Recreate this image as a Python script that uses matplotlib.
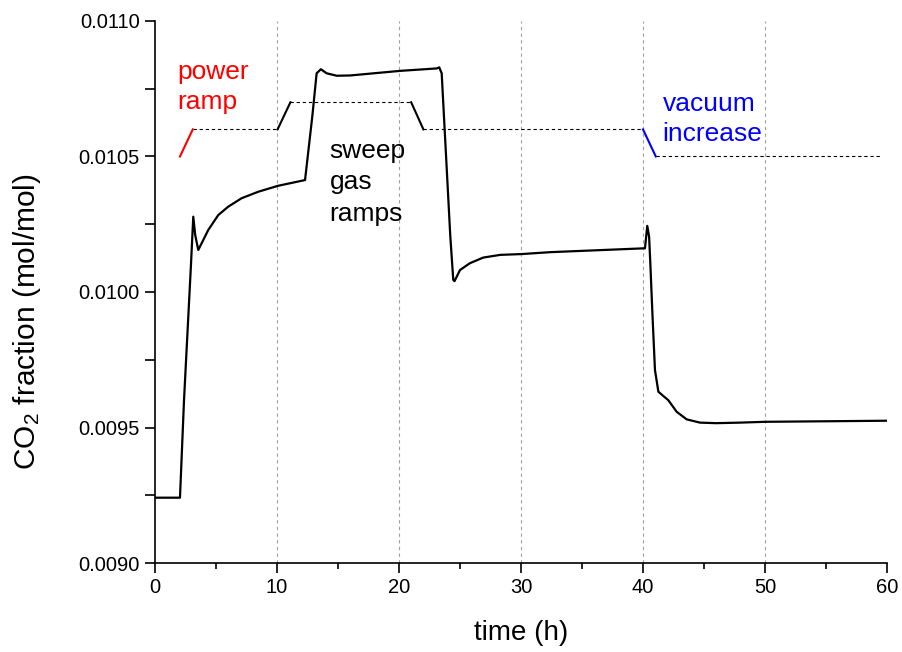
import matplotlib
matplotlib.use("Agg")
import matplotlib.pyplot as plt
from matplotlib.ticker import MultipleLocator, FormatStrFormatter

plt.rcParams["font.family"] = ["Liberation Sans", "DejaVu Sans"]
plt.rcParams["mathtext.default"] = "regular"

# CO2 fraction
time_h = [0, 2.05, 2.38, 2.95, 3.14, 3.3, 3.55, 3.96, 4.37, 5.19, 6.01, 7.1,
          8.47, 10.1, 12.3,
          12.9, 13.25, 13.6, 14.07, 14.9, 16.0, 20.1, 23.1, 23.3, 23.5, 24.2,
          24.45, 24.55, 25.0, 25.8, 26.9, 28.3, 30.06, 32.4, 40.0, 40.16, 40.35,
          40.5, 40.6, 40.77, 40.98, 41.26, 41.67, 42.07, 42.76, 43.58, 44.67,
          46.0, 47.95, 50.0, 60.0]
co2 = [0.009241, 0.009241, 0.00960, 0.01010, 0.010278, 0.01021, 0.010155,
       0.010192, 0.010229, 0.010284, 0.010315, 0.010346, 0.010370, 0.010392,
       0.010413,
       0.01065, 0.010807, 0.010822, 0.010807, 0.010798, 0.010799, 0.010816,
       0.010825, 0.010829, 0.010807, 0.010210, 0.010044, 0.010040, 0.010081,
       0.010106, 0.010127, 0.010137, 0.010140, 0.010147, 0.010161, 0.010161,
       0.010244, 0.010204, 0.010106, 0.009921, 0.009712, 0.009632, 0.009616,
       0.009601, 0.009558, 0.009530, 0.009518, 0.009516, 0.009518, 0.009521,
       0.009525]

# schematic of the operating changes
power_t = [2.05, 3.1]
power_v = [0.0105, 0.0106]
sweep_up_t = [10.05, 11.1]
sweep_up_v = [0.0106, 0.0107]
sweep_down_t = [21.0, 22.0]
sweep_down_v = [0.0107, 0.0106]
vac_t = [40.0, 41.05]
vac_v = [0.0106, 0.0105]
dash_segments = [([3.1, 10.05], [0.0106, 0.0106]),
                 ([11.1, 21.0], [0.0107, 0.0107]),
                 ([22.0, 40.0], [0.0106, 0.0106]),
                 ([41.05, 59.6], [0.0105, 0.0105])]

fig = plt.figure(figsize=(9.02, 6.52), dpi=100)
ax = fig.add_axes([0.1718, 0.1365, 0.8116, 0.8313])

for x in [10, 20, 30, 40, 50]:
    ax.axvline(x, color="#a0a0a0", linestyle=(0, (3, 3)), linewidth=0.8, zorder=0)

for xs, ys in dash_segments:
    ax.plot(xs, ys, color="black", linestyle=(0, (3, 2.5)), linewidth=0.8)
ax.plot(power_t, power_v, color="red", linewidth=1.5)
ax.plot(sweep_up_t, sweep_up_v, color="black", linewidth=1.5)
ax.plot(sweep_down_t, sweep_down_v, color="black", linewidth=1.5)
ax.plot(vac_t, vac_v, color="blue", linewidth=1.5)

ax.plot(time_h, co2, color="black", linewidth=1.6, solid_joinstyle="round")

ax.text(1.8, 0.010855, "power\nramp", color="red", fontsize=19, va="top",
        ha="left", linespacing=1.3)
ax.text(14.3, 0.010565, "sweep\ngas\nramps", color="black", fontsize=19, va="top",
        ha="left", linespacing=1.4)
ax.text(41.6, 0.010737, "vacuum\nincrease", color="blue", fontsize=19, va="top",
        ha="left", linespacing=1.3)

ax.set_xlim(0, 60)
ax.set_ylim(0.0090, 0.0110)
ax.xaxis.set_major_locator(MultipleLocator(10))
ax.xaxis.set_minor_locator(MultipleLocator(5))
ax.yaxis.set_major_locator(MultipleLocator(0.0005))
ax.yaxis.set_minor_locator(MultipleLocator(0.00025))
ax.yaxis.set_major_formatter(FormatStrFormatter("%.4f"))

for side in ["top", "right"]:
    ax.spines[side].set_visible(False)
for side in ["left", "bottom"]:
    ax.spines[side].set_linewidth(1.2)

ax.tick_params(axis="both", which="major", direction="out", length=7, width=1.2,
               labelsize=14.5, pad=4)
ax.tick_params(axis="y", which="minor", direction="out", length=7, width=1.2)
ax.tick_params(axis="x", which="minor", direction="out", length=4, width=1.2)

ax.set_xlabel("time (h)", fontsize=20, labelpad=16)
ax.set_ylabel("CO$_2$ fraction (mol/mol)", fontsize=21.5)
ax.yaxis.set_label_coords(-0.153, 0.445)

fig.savefig("out.png", dpi=100)
